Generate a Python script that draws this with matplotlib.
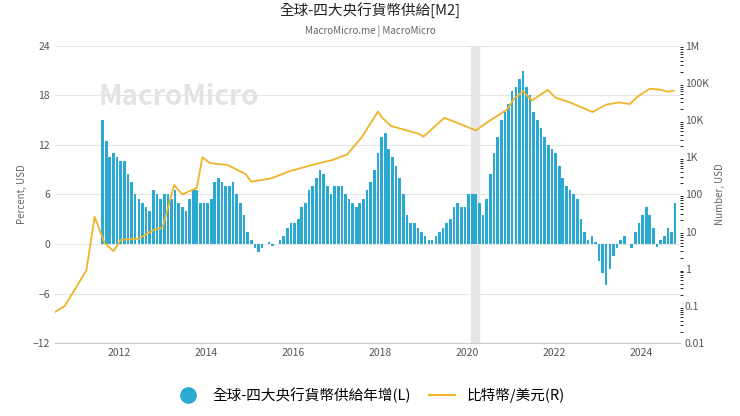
import numpy as np
import matplotlib
matplotlib.use("Agg")
import matplotlib.pyplot as plt
import matplotlib.dates as mdates
import pandas as pd

plt.rcParams['font.family'] = ['Noto Sans CJK TC', 'DejaVu Sans']

m2_start = "2011-08-01"
m2_yoy = [15, 12.5, 10.5, 11, 10.5,
    10, 10, 8.5, 7.5, 6, 5.5, 5, 4.5, 4, 6.5, 6, 5.5,
    6, 6, 5.5, 6.5, 5, 4.5, 4, 5.5, 6.5, 6.5, 5, 5,
    5, 5.5, 7.5, 8, 7.5, 7, 7, 7.5, 6, 5, 3.5, 1.5,
    0.5, -0.5, -1, -0.5, 0, 0.2, -0.2, 0, 0.5, 1, 2, 2.5,
    2.5, 3, 4.5, 5, 6.5, 7, 8, 9, 8.5, 7, 6, 7,
    7, 7, 6, 5.5, 5, 4.5, 5, 5.5, 6.5, 7.5, 9, 11,
    13, 13.5, 11.5, 10.5, 9.5, 8, 6, 3.5, 2.5, 2.5, 2, 1.5,
    1, 0.5, 0.5, 1, 1.5, 2, 2.5, 3, 4.5, 5, 4.5, 4.5,
    6, 6, 6, 5, 3.5, 5.5, 8.5, 11, 13, 15, 16, 17,
    18.5, 19, 20, 21, 19, 18, 16, 15, 14, 13, 12, 11.5,
    11, 9.5, 8, 7, 6.5, 6, 5.5, 3, 1.5, 0.5, 1, 0.3,
    -2, -3.5, -5, -3, -1.5, -0.5, 0.5, 1, 0, -0.5, 1.5, 2.5,
    3.5, 4.5, 3.5, 2, -0.3, 0.5, 1, 2, 1.5, 5]

btc_dates = ["2010-07-15", "2010-10-01", "2011-01-01", "2011-04-01", "2011-06-10", "2011-09-01",
    "2011-11-15", "2012-01-15", "2012-06-15", "2012-10-15", "2013-01-01", "2013-04-08",
    "2013-06-15", "2013-10-15", "2013-12-01", "2014-02-01", "2014-07-01", "2014-12-01",
    "2015-01-15", "2015-07-01", "2015-12-01", "2016-07-01", "2016-12-01", "2017-04-01",
    "2017-08-01", "2017-12-15", "2018-01-15", "2018-04-01", "2018-11-20", "2019-01-01",
    "2019-06-25", "2019-12-01", "2020-03-15", "2020-07-01", "2020-12-01", "2021-02-01",
    "2021-04-15", "2021-07-01", "2021-11-10", "2022-01-15", "2022-05-15", "2022-11-20",
    "2023-03-15", "2023-07-01", "2023-10-01", "2023-12-01", "2024-03-15", "2024-06-01",
    "2024-08-15", "2024-10-01"]
btc_price = [0.07, 0.1, 0.3, 0.9, 25, 5, 3, 6, 6.5, 11, 13, 180, 100, 150, 1000, 700,
    620, 350, 220, 270, 420, 650, 850, 1200, 3500, 17000, 12000, 7000, 4300, 3600,
    11500, 7300, 5300, 9200, 19000, 38000, 60000, 34000, 65000, 40000, 30000, 16500,
    26000, 30000, 27000, 42000, 70000, 67000, 58000, 62000]

bar_c = "#2aa9d2"
line_c = "#f0b429"

fig = plt.figure(figsize=(7.4, 4.16), dpi=100)
ax = fig.add_axes([0.074, 0.175, 0.845, 0.715])
ax2 = ax.twinx()

bd = pd.date_range(m2_start, periods=len(m2_yoy), freq="MS") + pd.Timedelta(days=14)
ax.bar(bd, m2_yoy, width=22, color=bar_c, zorder=2)
ax2.plot(pd.to_datetime(btc_dates), btc_price, color=line_c, lw=1.3)
ax2.set_yscale("log")
ax2.set_ylim(0.01, 1e6)
ax2.set_yticks([0.01, 0.1, 1, 10, 100, 1000, 1e4, 1e5, 1e6])
ax2.set_yticklabels(["0.01", "0.1", "1", "10", "100", "1K", "10K", "100K", "1M"])
ax.set_ylim(-12, 24)
ax.set_yticks(range(-12, 25, 6))
ax.set_xlim(pd.Timestamp("2010-07-10"), pd.Timestamp("2024-11-25"))
ax.xaxis.set_major_locator(mdates.YearLocator(2))
ax.xaxis.set_major_formatter(mdates.DateFormatter("%Y"))
ax.axvspan(pd.Timestamp("2020-02-01"), pd.Timestamp("2020-04-15"), color="#e6e6e6", zorder=0)
ax.grid(axis="y", color="#e6e6e6", lw=0.8, zorder=0)
for a in (ax, ax2):
    for s in a.spines.values():
        s.set_visible(False)
    a.tick_params(length=0, labelsize=7.5, colors="#555555")
ax.spines["bottom"].set_visible(True)
ax.spines["bottom"].set_color("#cccccc")
ax.set_ylabel("Percent, USD", fontsize=7, color="#666666")
ax2.set_ylabel("Number, USD", fontsize=7, color="#666666")
ax.text(0.07, 0.8, "MacroMicro", transform=ax.transAxes, fontsize=20, color="#dddddd",
        fontweight="bold", alpha=0.8, zorder=0)

fig.text(0.5, 0.963, "全球-四大央行貨幣供給[M2]", ha="center", fontsize=10.5, color="#222222")
fig.text(0.5, 0.918, "MacroMicro.me | MacroMicro", ha="center", fontsize=7, color="#666666")

from matplotlib.lines import Line2D
h = [Line2D([], [], marker="o", ls="", ms=11, color=bar_c),
     Line2D([], [], color=line_c, lw=1.5)]
fig.legend(h, ["全球-四大央行貨幣供給年增(L)", "比特幣/美元(R)"], loc="lower center",
           bbox_to_anchor=(0.5, 0.0), ncol=2, frameon=False, fontsize=10.5,
           handlelength=1.8, columnspacing=1.2)
fig.savefig("out.png", dpi=100)
